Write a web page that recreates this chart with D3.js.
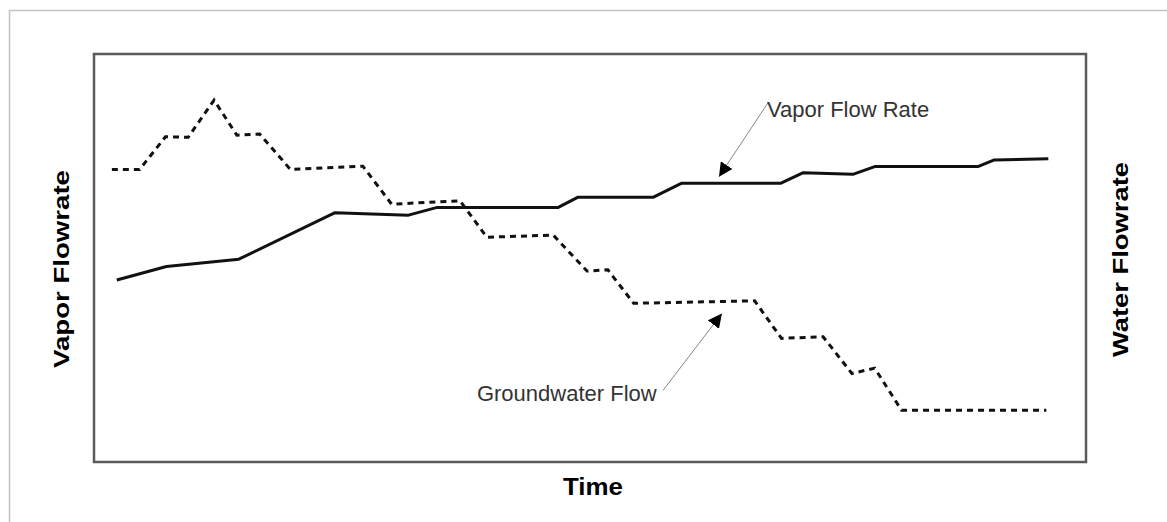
<!DOCTYPE html>
<html>
<head>
<meta charset="utf-8">
<script src="https://d3js.org/d3.v7.min.js"></script>
<style>
  body { margin: 0; background: #fff; }
  text { font-family: "Liberation Sans", Arial, sans-serif; }
</style>
</head>
<body>
<div id="chart"></div>
<script>
var width = 1167, height = 522;

// time (arbitrary units, 0-100) and relative flowrates (0-100)
var vaporTime = [2.3, 7.3, 14.6, 24.3, 31.7, 34.6, 46.8, 48.8, 56.4, 59.2, 69.2, 71.5, 76.5, 78.7, 89.1, 90.7, 96.2];
var vaporRate = [44.6, 47.9, 49.7, 61.1, 60.5, 62.4, 62.4, 64.9, 64.9, 68.3, 68.3, 70.9, 70.5, 72.4, 72.4, 74.0, 74.3];

var waterTime = [1.8, 4.6, 7.2, 9.5, 12.1, 14.4, 16.7, 19.8, 27.1, 30.0, 36.9, 39.6, 46.3, 49.7, 51.8, 54.4, 66.6, 69.3, 73.5, 76.4, 78.7, 81.4, 96.0];
var waterRate = [71.7, 71.7, 79.7, 79.6, 88.7, 80.1, 80.4, 71.7, 72.5, 63.2, 64.0, 55.1, 55.6, 46.8, 47.1, 38.9, 39.5, 30.3, 30.7, 21.7, 23.0, 12.7, 12.7];

var labels = ["Vapor Flow Rate", "Groundwater Flow"];
var axisTitles = ["Time", "Vapor Flowrate", "Water Flowrate"];

var margin = {top: 54, right: 81, bottom: 60, left: 94};
var plotW = width - margin.left - margin.right;
var plotH = height - margin.top - margin.bottom;

var svg = d3.select("#chart")
  .append("svg")
  .attr("width", width)
  .attr("height", height);

// outer light frame
svg.append("rect")
  .attr("x", 9.5).attr("y", 10.5)
  .attr("width", 1200).attr("height", 600)
  .attr("fill", "none")
  .attr("stroke", "#c4c4c4")
  .attr("stroke-width", 1.5);

var x = d3.scaleLinear().domain([0, 100]).range([margin.left, margin.left + plotW]);
var yLeft = d3.scaleLinear().domain([0, 100]).range([margin.top + plotH, margin.top]);
var yRight = d3.scaleLinear().domain([0, 100]).range([margin.top + plotH, margin.top]);

// plot frame
svg.append("rect")
  .attr("x", margin.left).attr("y", margin.top)
  .attr("width", plotW).attr("height", plotH)
  .attr("fill", "none")
  .attr("stroke", "#5a5a5a")
  .attr("stroke-width", 2.5);

var vapor = vaporTime.map(function(t, i) { return {t: t, v: vaporRate[i]}; });
var water = waterTime.map(function(t, i) { return {t: t, v: waterRate[i]}; });

var vaporLine = d3.line().x(d => x(d.t)).y(d => yLeft(d.v));
var waterLine = d3.line().x(d => x(d.t)).y(d => yRight(d.v));

svg.append("path")
  .datum(water)
  .attr("d", waterLine)
  .attr("fill", "none")
  .attr("stroke", "#111")
  .attr("stroke-width", 3)
  .attr("stroke-dasharray", "6,5");

svg.append("path")
  .datum(vapor)
  .attr("d", vaporLine)
  .attr("fill", "none")
  .attr("stroke", "#111")
  .attr("stroke-width", 3)
  .attr("stroke-linejoin", "round");

// arrowhead marker
svg.append("defs").append("marker")
  .attr("id", "arrow")
  .attr("viewBox", "0 0 10 10")
  .attr("refX", 10).attr("refY", 5)
  .attr("markerWidth", 14).attr("markerHeight", 14)
  .attr("markerUnits", "userSpaceOnUse")
  .attr("orient", "auto")
  .append("path")
  .attr("d", "M0,0 L10,5 L0,10 Z")
  .attr("fill", "#000");

// annotations: tip in data coords, label anchor in px offset from tip
var notes = [
  {text: labels[0], t: 63.0, v: 69.9, dx: 49, dy: -74, tx: 48, ty: -60},
  {text: labels[1], t: 63.3, v: 36.4, dx: -59, dy: 77, tx: -245, ty: 88}
];
notes.forEach(function(n) {
  var px = x(n.t), py = yLeft(n.v);
  svg.append("line")
    .attr("x1", px + n.dx).attr("y1", py + n.dy)
    .attr("x2", px).attr("y2", py)
    .attr("stroke", "#888")
    .attr("stroke-width", 1)
    .attr("marker-end", "url(#arrow)");
  svg.append("text")
    .attr("x", px + n.tx).attr("y", py + n.ty)
    .attr("font-size", 22)
    .attr("fill", "#333")
    .text(n.text);
});

// axis titles
svg.append("text")
  .attr("x", x(50) + 3).attr("y", 495)
  .attr("text-anchor", "middle")
  .attr("font-size", 24).attr("font-weight", "bold")
  .attr("textLength", 60).attr("lengthAdjust", "spacingAndGlyphs")
  .text(axisTitles[0]);

svg.append("text")
  .attr("transform", "translate(68.5," + 269 + ") rotate(-90)")
  .attr("text-anchor", "middle")
  .attr("font-size", 22).attr("font-weight", "bold")
  .attr("textLength", 198).attr("lengthAdjust", "spacingAndGlyphs")
  .text(axisTitles[1]);

svg.append("text")
  .attr("transform", "translate(1127.5," + 259.5 + ") rotate(-90)")
  .attr("text-anchor", "middle")
  .attr("font-size", 22).attr("font-weight", "bold")
  .attr("textLength", 195).attr("lengthAdjust", "spacingAndGlyphs")
  .text(axisTitles[2]);
</script>
</body>
</html>
